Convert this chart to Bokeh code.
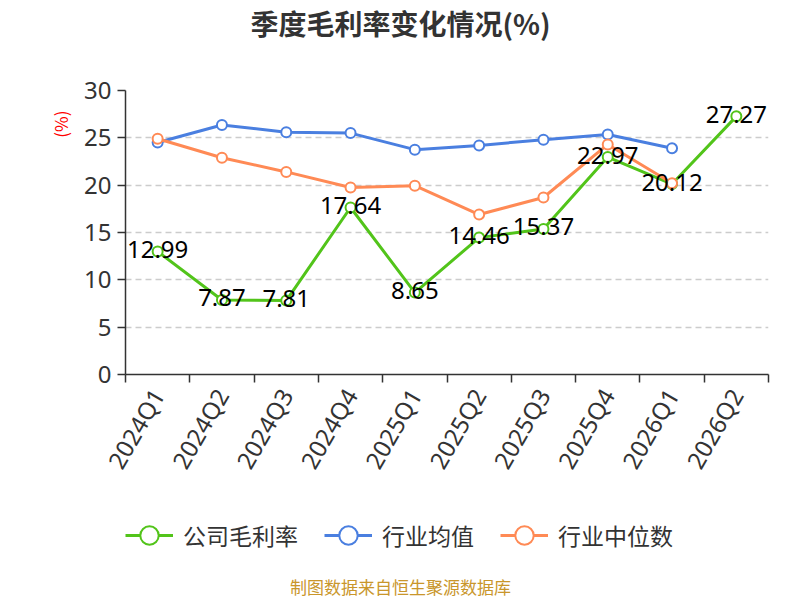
import math
from bokeh.plotting import figure
from bokeh.layouts import column
from bokeh.models import (FixedTicker, Label, Legend, LegendItem, ColumnDataSource, Range1d, Title)
from bokeh.core.properties import value
from bokeh.embed import file_html
from bokeh.resources import INLINE

# ---- data ----
quarters = ["2024Q1", "2024Q2", "2024Q3", "2024Q4", "2025Q1",
            "2025Q2", "2025Q3", "2025Q4", "2026Q1", "2026Q2"]
company = [12.99, 7.87, 7.81, 17.64, 8.65, 14.46, 15.37, 22.97, 20.12, 27.27]
industry_avg = [24.5, 26.35, 25.6, 25.5, 23.75, 24.2, 24.8, 25.35, 23.9]
industry_median = [24.9, 22.9, 21.4, 19.75, 19.95, 16.9, 18.7, 24.3, 20.2]
y_ticks = [0, 5, 10, 15, 20, 25, 30]
series_names = ["公司毛利率", "行业均值", "行业中位数"]
title_text = "季度毛利率变化情况(%)"
unit_text = "(%)"
footer_text = "制图数据来自恒生聚源数据库"

GREEN = "#52c41a"
BLUE = "#4a7fe0"
ORANGE = "#ff8a55"
COLORS = [GREEN, BLUE, ORANGE]
FONT = "Noto Sans CJK SC"
NUMFONT = "Noto Sans"

W = 798
H_TOP, H_MAIN, H_BOT = 60, 440, 98
FL, FT, FR, FB = 125, 90, 768, 374   # frame box in page pixels


def bare(height, **kw):
    f = figure(width=W, height=height, output_backend="svg", toolbar_location=None,
               x_range=Range1d(0, 1), y_range=Range1d(0, 1),
               x_axis_location=None, y_axis_location=None, **kw)
    f.outline_line_color = None
    f.xgrid.visible = False
    f.ygrid.visible = False
    return f


# ---- title strip (frames of a column are aligned: x is relative to FL) ----
top = bare(H_TOP, min_border_left=FL, min_border_right=0, min_border_top=0, min_border_bottom=0)
top.add_layout(Label(x=400 - FL, y=H_TOP - 22, x_units="screen", y_units="screen", text=title_text,
                     text_align="center", text_baseline="middle", text_font=FONT,
                     text_font_size="28px", text_font_style="bold", text_color="#333333"))

# ---- main chart ----
p = figure(width=W, height=H_MAIN, output_backend="svg", toolbar_location=None,
           x_range=Range1d(0, len(quarters)), y_range=Range1d(y_ticks[0], y_ticks[-1]),
           min_border_left=FL, min_border_right=W - FR, min_border_top=FT - H_TOP,
           min_border_bottom=H_TOP + H_MAIN - FB)
p.outline_line_color = None

centers = [i + 0.5 for i in range(len(quarters))]
bounds = list(range(len(quarters) + 1))

p.xaxis.ticker = FixedTicker(ticks=centers, minor_ticks=bounds)
p.xaxis.major_label_overrides = {c: q for c, q in zip(centers, quarters)}
p.xaxis.major_tick_out = 0
p.xaxis.major_tick_in = 0
p.xaxis.minor_tick_out = 8
p.xaxis.minor_tick_in = 0
p.xaxis.minor_tick_line_color = "#333333"
p.xaxis.minor_tick_line_width = 1.5
p.xaxis.major_label_orientation = math.pi / 3
p.xaxis.major_label_standoff = 8

p.yaxis.ticker = FixedTicker(ticks=y_ticks)
p.yaxis.major_tick_out = 8
p.yaxis.major_tick_in = 0
p.yaxis.minor_tick_out = 0
p.yaxis.minor_tick_in = 0
p.yaxis.major_label_standoff = 6

for ax in (p.xaxis, p.yaxis):
    ax.axis_line_color = "#333333"
    ax.axis_line_width = 1.5
    ax.major_tick_line_color = "#333333"
    ax.major_tick_line_width = 1.5
    ax.major_label_text_font = NUMFONT
    ax.major_label_text_font_size = "24px"
    ax.major_label_text_color = "#333333"

p.xgrid.grid_line_color = None
p.ygrid.grid_line_color = "#cccccc"
p.ygrid.grid_line_width = 1.5
p.ygrid.grid_line_dash = "6 4"

p.add_layout(Title(text=unit_text, align="right", offset=20, standoff=18, text_color="red",
                   text_font=FONT, text_font_size="17px", text_font_style="normal"), "left")


def add_series(fig, vals, color, xs):
    src = ColumnDataSource(dict(x=xs, y=vals))
    lr = fig.line("x", "y", source=src, line_color=color, line_width=3)
    sr = fig.scatter("x", "y", source=src, size=10, marker="circle", fill_color="white",
                     line_color=color, line_width=2)
    return lr, sr


add_series(p, company, GREEN, centers[:len(company)])
add_series(p, industry_avg, BLUE, centers[:len(industry_avg)])
add_series(p, industry_median, ORANGE, centers[:len(industry_median)])

lab_src = ColumnDataSource(dict(x=centers[:len(company)], y=company,
                                t=["%.2f" % v for v in company]))
p.text("x", "y", text="t", source=lab_src, text_align="center", text_baseline="middle",
       y_offset=-2, text_font=value(NUMFONT), text_font_size="24px", text_color="black")

# ---- legend + footer strip ----
# The legend swatches come from copies of the series drawn in this strip; its y range (0..1)
# lies below every value, so the copies themselves stay outside the visible frame.
bot = bare(H_BOT, min_border_left=FL, min_border_top=12, min_border_right=0, min_border_bottom=0)
items = []
for name, color, vals in zip(series_names, COLORS, [company, industry_avg, industry_median]):
    lr, sr = add_series(bot, vals, color, centers[:len(vals)])
    items.append(LegendItem(label=name, renderers=[lr, sr]))
legend = Legend(items=items, orientation="horizontal", location="top_left",
                glyph_width=48, glyph_height=46, label_standoff=10, spacing=26,
                padding=0, margin=2, border_line_color=None, background_fill_alpha=0,
                label_text_font=FONT, label_text_font_size="23px", label_text_color="#333333")
legend.margin = 0
bot.add_layout(legend, "center")
bot.add_layout(Label(x=400 - FL, y=H_BOT - 86, x_units="screen", y_units="screen",
                     text=footer_text, text_align="center", text_baseline="middle",
                     text_font=FONT, text_font_size="17px", text_color="#c9962b"))

layout = column(top, p, bot, spacing=0)
open("out.html", "w").write(file_html(layout, INLINE))
